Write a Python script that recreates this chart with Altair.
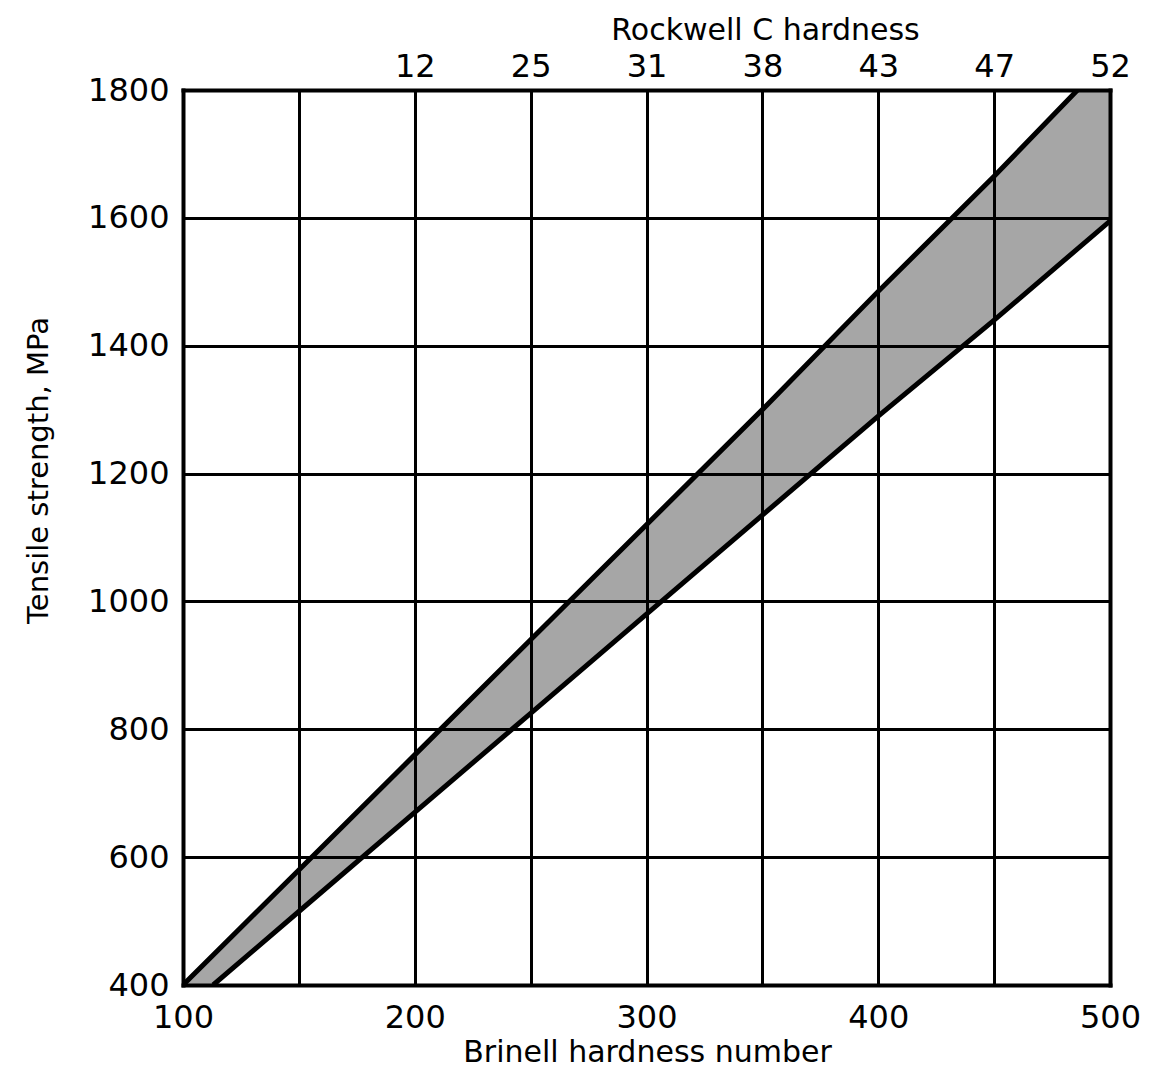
import altair as alt
import numpy as np
import pandas as pd

# Values
brinell_grid = [100, 150, 200, 250, 300, 350, 400, 450, 500]
brinell_labels = [100, 200, 300, 400, 500]
tensile_grid = [400, 600, 800, 1000, 1200, 1400, 1600, 1800]

rockwell_hb = [200, 250, 300, 350, 400, 450, 500]
rockwell_c = ["12", "25", "31", "38", "43", "47", "52"]

upper_hb = [100, 150, 200, 250, 300, 350, 400, 450, 486]
upper_ts = [400, 580, 760, 940, 1120, 1300, 1485, 1665, 1800]

lower_hb = [113, 150, 200, 250, 300, 350, 400, 450, 500]
lower_ts = [400, 515, 670, 825, 980, 1135, 1290, 1440, 1595]

# Tables built from the lists above
lines_df = pd.concat([
    pd.DataFrame({"hb": upper_hb, "ts": upper_ts, "edge": "upper"}),
    pd.DataFrame({"hb": lower_hb, "ts": lower_ts, "edge": "lower"}),
])
band_x = sorted(set(upper_hb) | set(lower_hb))
band_df = pd.DataFrame({
    "hb": band_x,
    "lo": np.interp(band_x, lower_hb, lower_ts),
    "hi": np.interp(band_x, upper_hb, upper_ts),
})
rock_df = pd.DataFrame({"hb": rockwell_hb, "hrc": rockwell_c})

FONT = "DejaVu Sans"
xs = alt.Scale(domain=[100, 500], nice=False, zero=False)
ys = alt.Scale(domain=[400, 1800], nice=False, zero=False)

label_expr_bottom = "indexof([" + ",".join(str(v) for v in brinell_labels) + "], datum.value) >= 0 ? datum.label : ''"
label_expr_top = " : ".join(
    f"datum.value == {h} ? '{c}'" for h, c in zip(rockwell_hb, rockwell_c)
) + " : ''"

bottom_axis = alt.Axis(
    orient="bottom", values=brinell_grid, labelExpr=label_expr_bottom, format="d",
    title="Brinell hardness number", grid=True, gridColor="black", gridWidth=3,
    gridOpacity=1, ticks=False, domain=True, domainColor="black", domainWidth=4,
    domainCap="square", labelFont=FONT, labelFontSize=32, labelColor="black",
    labelPadding=17, titleFont=FONT, titleFontSize=30, titleFontWeight="normal",
    titleColor="black", titleX=464, titleY=76, titleBaseline="alphabetic",
    titleAlign="center", zindex=1, labelFlush=False,
)
left_axis = alt.Axis(
    orient="left", values=tensile_grid, format="d", title="Tensile strength, MPa",
    grid=True, gridColor="black", gridWidth=3, gridOpacity=1, ticks=False,
    domain=True, domainColor="black", domainWidth=4, domainCap="square",
    labelFont=FONT, labelFontSize=32, labelColor="black", labelPadding=14,
    titleFont=FONT, titleFontSize=29, titleFontWeight="normal", titleColor="black",
    titleX=-145, titleY=380, titleAngle=-90, titleBaseline="middle",
    titleAlign="center", zindex=1, labelFlush=False,
)
top_axis = alt.Axis(
    orient="top", values=rockwell_hb, labelExpr=label_expr_top,
    title="Rockwell C hardness", grid=False, ticks=False, domain=True,
    domainColor="black", domainWidth=4, domainCap="square",
    labelFont=FONT, labelFontSize=32, labelColor="black", labelPadding=7,
    titleFont=FONT, titleFontSize=30, titleFontWeight="normal", titleColor="black",
    titleX=582, titleY=-51, titleBaseline="alphabetic", titleAlign="center",
    zindex=1, labelFlush=False,
)
right_axis = alt.Axis(
    orient="right", values=tensile_grid, labels=False, title=None, grid=False,
    ticks=False, domain=True, domainColor="black", domainWidth=4,
    domainCap="square", zindex=1,
)

band = alt.Chart(band_df).mark_area(color="#a6a6a6", opacity=1, clip=True).encode(
    x=alt.X("hb:Q", scale=xs, axis=bottom_axis),
    y=alt.Y("lo:Q", scale=ys, axis=left_axis),
    y2="hi:Q",
)

edges = alt.Chart(lines_df).mark_line(color="black", strokeWidth=5, clip=True).encode(
    x=alt.X("hb:Q", scale=xs, axis=None),
    y=alt.Y("ts:Q", scale=ys, axis=None),
    detail="edge:N",
)

top = alt.Chart(rock_df).mark_point(opacity=0).encode(
    x=alt.X("hb:Q", scale=xs, axis=top_axis),
    y=alt.Y("hb:Q", scale=ys, axis=right_axis),
)

chart = alt.layer(band, edges, top).resolve_axis(
    x="independent", y="independent"
).properties(
    width=927, height=895,
    autosize=alt.AutoSizeParams(type="none"),
    padding={"left": 175, "top": 82, "right": 30, "bottom": 83},
    background="white",
).configure_view(stroke=None)

chart.save("out.html", embed_options={"renderer": "svg", "actions": False})
